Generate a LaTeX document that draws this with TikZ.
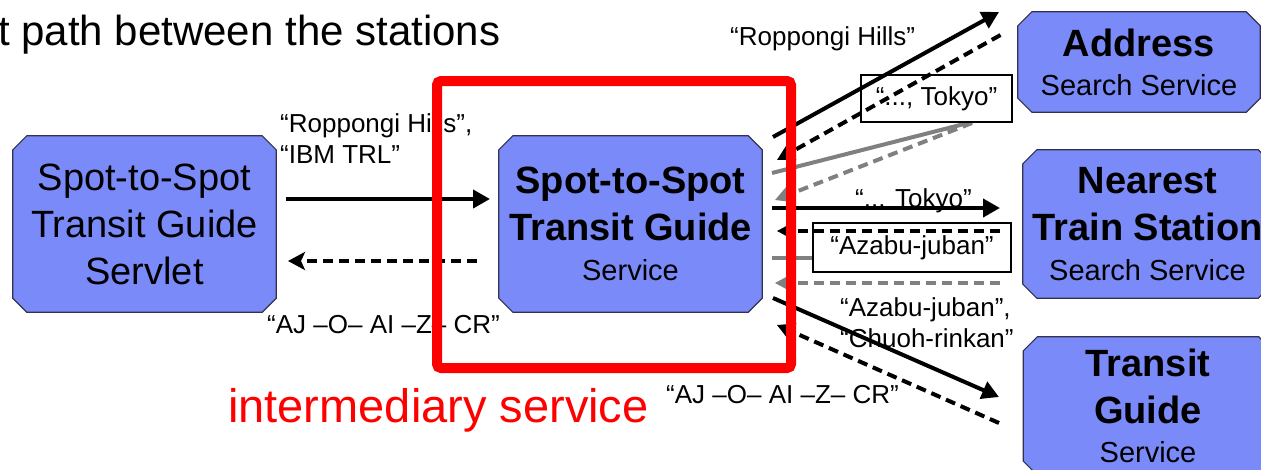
\documentclass[tikz,border=0pt]{standalone}
\usepackage{fontspec}
\setmainfont{Liberation Sans}
\usetikzlibrary{arrows.meta,calc,backgrounds}
\definecolor{boxblue}{RGB}{122,138,248}
\definecolor{boxline}{RGB}{50,50,80}
\definecolor{lgray}{RGB}{128,128,128}
\definecolor{fred}{RGB}{255,0,0}
\newcommand{\chamferbox}[1]{%
  \filldraw[boxshape]
    ($(#1.north west)+(14,0)$) -- ($(#1.north east)+(-14,0)$) -- ($(#1.north east)+(0,14)$)
    -- ($(#1.south east)+(0,-14)$) -- ($(#1.south east)+(-14,0)$) -- ($(#1.south west)+(14,0)$)
    -- ($(#1.south west)+(0,-14)$) -- ($(#1.north west)+(0,14)$) -- cycle;}
\begin{document}
\begin{tikzpicture}[x=1pt,y=-1pt,
  svc/.style={rectangle, inner sep=0pt, align=center, font=\fontsize{38}{47}\selectfont},
  boxshape/.style={draw=boxline, line width=1.2pt, fill=boxblue},
  lbl/.style={inner sep=0pt, font=\fontsize{26}{31}\selectfont, align=left},
  lblbox/.style={draw=black, line width=2pt, fill=white, inner sep=0pt, font=\fontsize{26}{31}\selectfont},
  solidarr/.style={line width=4pt, -{Triangle[length=17pt,width=18pt]}},
  dasharr/.style={line width=4pt, dash pattern=on 10pt off 6pt, -{Stealth[length=17pt,width=18pt,inset=4pt]}},
  grayline/.style={line width=4pt, draw=lgray},
  graydash/.style={line width=4pt, draw=lgray, dash pattern=on 10pt off 6pt, -{Stealth[length=17pt,width=18pt,inset=4pt]}},
  frame/.style={draw=fred, line width=10pt, rounded corners=4pt, inner sep=0pt}
]
\useasboundingbox (0,0) rectangle (1261,469);

% title
\node[anchor=base west, inner sep=0pt, font=\fontsize{42}{50}\selectfont] (title) at (-2,45) {t path between the stations};

% boxes
\node[svc, minimum width=263pt, minimum height=176pt] (servlet) at (144.5,224)
  {Spot-to-Spot\\Transit Guide\\Servlet};
\node[svc, minimum width=263pt, minimum height=176pt] (mid) at (630.5,224)
  {\bfseries Spot-to-Spot\\\bfseries Transit Guide\\[-7pt]{\fontsize{29}{35}\selectfont Service}};
\node[svc, minimum width=242pt, minimum height=100pt] (addr) at (1139,62)
  {\bfseries Address\\[-8pt]{\fontsize{29}{35}\selectfont Search Service}};
\node[svc, minimum width=249pt, minimum height=148pt] (near) at (1147.5,224)
  {\bfseries Nearest\\\bfseries Train Station\\[-7pt]{\fontsize{29}{35}\selectfont Search Service}};
\node[svc, minimum width=249pt, minimum height=138pt] (tg) at (1148,406)
  {\bfseries Transit\\\bfseries Guide\\[-8pt]{\fontsize{29}{35}\selectfont Service}};
\begin{scope}[on background layer]
  \chamferbox{servlet}
  \chamferbox{mid}
  \chamferbox{addr}
  \chamferbox{near}
  \chamferbox{tg}
\end{scope}

% endpoints
\coordinate (s1a) at (286,199);  \coordinate (s1b) at (490,199);
\coordinate (s2a) at (477,261);  \coordinate (s2b) at (288,261);
\coordinate (a1a) at (773,137);  \coordinate (a1b) at (999,12);
\coordinate (a2a) at (1000.5,35); \coordinate (a2b) at (777,160);
\coordinate (g1a) at (772,173);  \coordinate (g1b) at (972,122);
\coordinate (g2a) at (972,123);  \coordinate (g2b) at (775,200);
\coordinate (h1a) at (772,208);  \coordinate (h1b) at (1000,208);
\coordinate (h2a) at (1000,231); \coordinate (h2b) at (777,231);
\coordinate (h3a) at (772,258);  \coordinate (h3b) at (900,258);
\coordinate (h4a) at (1000,283); \coordinate (h4b) at (775,283);
\coordinate (d1a) at (773,298);  \coordinate (d1b) at (999,397);
\coordinate (d2a) at (999,423);  \coordinate (d2b) at (777,325);

% gray (under the label boxes)
\draw[grayline] (g1a) -- (g1b);
\draw[graydash] (g2a) -- (g2b);
\draw[grayline] (h3a) -- (h3b);
\draw[graydash] (h4a) -- (h4b);

% label boxes
\node[lblbox, minimum width=151.6pt, minimum height=47.3pt] (tokyobox) at (936.5,98.7) {“..., Tokyo”};
\node[lblbox, minimum width=198.6pt, minimum height=48.4pt] (azabubox) at (912,247.5) {“Azabu-juban”};

% labels
\node[lbl, anchor=north west] (lab1) at (280,113) {“Roppongi Hills”,\\“IBM TRL”};
\node[lbl, anchor=base west] (lab2) at (267,333) {“AJ –O– AI –Z– CR”};
\node[lbl, anchor=base west] (lab3) at (730,45) {“Roppongi Hills”};
\node[lbl, anchor=base west] (lab4) at (855,207) {“... Tokyo”};
\node[lbl, anchor=north west] (lab5) at (840,297) {“Azabu-juban”,\\“Chuoh-rinkan”};
\node[lbl, anchor=base west] (lab6) at (666,403) {“AJ –O– AI –Z– CR”};

% black arrows
\draw[solidarr] (s1a) -- (s1b);
\draw[dasharr] (s2a) -- (s2b);
\draw[solidarr] (a1a) -- (a1b);
\draw[dasharr] (a2a) -- (a2b);
\draw[solidarr] (h1a) -- (h1b);
\draw[dasharr] (h2a) -- (h2b);
\draw[solidarr] (d1a) -- (d1b);
\draw[dasharr] (d2a) -- (d2b);

% red frame
\node[frame, minimum width=354pt, minimum height=287pt] (redframe) at (614,224.5) {};
\node[anchor=base west, inner sep=0pt, text=fred, font=\fontsize{47}{56}\selectfont] (inter) at (228,422) {intermediary service};
\end{tikzpicture}
\end{document}
